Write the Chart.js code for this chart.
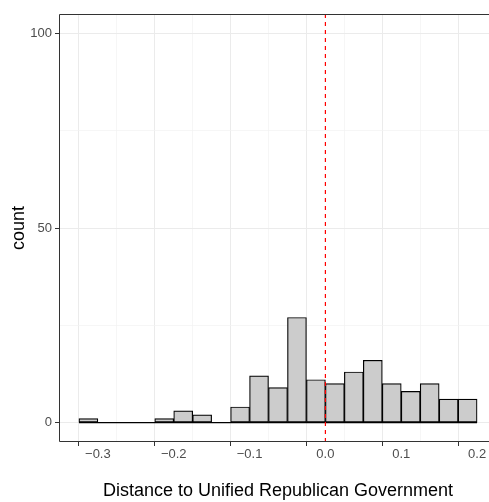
<!DOCTYPE html>
<html><head><meta charset="utf-8">
<script src="https://cdn.jsdelivr.net/npm/chart.js@4/dist/chart.umd.min.js"></script>
<style>
html,body{margin:0;padding:0;overflow:hidden;background:#fff;width:489px;height:502px}
#wrap{position:absolute;left:0;top:0;width:489px;height:502px;overflow:hidden}
canvas{display:block}
</style>
</head><body><div id="wrap"><canvas id="c" width="510" height="502"></canvas></div>
<script>
// Histogram bins (centers, width 0.025) and counts
const binWidth = 0.025;
const binCenters = [-0.3125,-0.2875,-0.2625,-0.2375,-0.2125,-0.1875,-0.1625,-0.1375,-0.1125,-0.0875,-0.0625,-0.0375,-0.0125,0.0125,0.0375,0.0625,0.0875,0.1125,0.1375,0.1625,0.1875];
const counts = [1,0,0,0,1,3,2,0,4,12,9,27,11,10,13,16,10,8,10,6,6];
const xTickLabels = [-0.3,-0.2,-0.1,0.0,0.1,0.2];
const yTickLabels = [0,50,100];
const vlineX = 0;
const xLimits = [-0.35125, 0.22625];
const yLimits = [-5, 105];

const isIn = (arr, v) => arr.some(a => Math.abs(a - v) < 1e-6);
const tickIn = (arr, c) => !!(c && c.tick && isIn(arr, c.tick.value));
const fmtX = v => (v < -1e-9 ? '\u2212' : '') + Math.abs(v).toFixed(1);

const barData = binCenters.map((x, i) => ({x: x, y: counts[i]}));
const baseData = [{x: binCenters[0] - binWidth/2, y: 0}, {x: binCenters[binCenters.length-1] + binWidth/2, y: 0}];
const vlineData = [{x: vlineX, y: yLimits[0]}, {x: vlineX, y: yLimits[1]}];

const FONT = "'Liberation Sans', Arial, Helvetica, sans-serif";

const panelBorder = {
  id: 'panelBorder',
  afterDraw(chart) {
    const {ctx, chartArea: a} = chart;
    ctx.save();
    ctx.strokeStyle = '#333333';
    ctx.lineWidth = 1;
    ctx.beginPath();
    ctx.moveTo(a.right, a.top + 0.5);
    ctx.lineTo(a.left + 0.5, a.top + 0.5);
    ctx.lineTo(a.left + 0.5, a.bottom - 0.5);
    ctx.lineTo(a.right, a.bottom - 0.5);
    ctx.stroke();
    ctx.restore();
  }
};

new Chart(document.getElementById('c'), {
  data: {
    datasets: [
      {type: 'line', data: vlineData, borderColor: '#FF0000', borderWidth: 1.2, borderDash: [4, 4], pointRadius: 0, order: 0},
      {type: 'line', data: baseData, borderColor: '#000000', borderWidth: 1.2, pointRadius: 0, order: 1},
      {type: 'bar', data: barData, backgroundColor: '#CCCCCC', borderColor: '#000000', borderWidth: 1.2, borderSkipped: false,
       barPercentage: 1, categoryPercentage: 1, order: 2}
    ]
  },
  options: {
    responsive: false,
    devicePixelRatio: 1,
    animation: false,
    layout: {padding: {left: 0, top: 14, right: 13, bottom: 0}},
    plugins: {legend: {display: false}, tooltip: {enabled: false}},
    scales: {
      x: {
        type: 'linear', min: xLimits[0], max: xLimits[1], offset: false,
        afterFit: s => { s.height = 60; },
        border: {display: false},
        grid: {
          color: c => tickIn(xTickLabels, c) ? '#EBEBEB' : '#F2F2F2',
          lineWidth: c => tickIn(xTickLabels, c) ? 1 : 0.7,
          tickColor: c => tickIn(xTickLabels, c) ? '#333333' : 'rgba(0,0,0,0)',
          tickLength: 4, tickWidth: 1
        },
        ticks: {
          stepSize: 0.05, includeBounds: false, autoSkip: false, maxRotation: 0,
          color: '#4D4D4D', font: {family: FONT, size: 13}, padding: 1,
          callback: v => isIn(xTickLabels, v) ? fmtX(v) : ''
        },
        title: {display: true, text: 'Distance to Unified Republican Government', color: '#000000',
          font: {family: FONT, size: 18}, padding: {top: 0, bottom: 0}}
      },
      y: {
        type: 'linear', min: yLimits[0], max: yLimits[1],
        afterFit: s => { s.width = 59; },
        border: {display: false},
        grid: {
          color: c => tickIn(yTickLabels, c) ? '#EBEBEB' : '#F2F2F2',
          lineWidth: c => tickIn(yTickLabels, c) ? 1 : 0.7,
          tickColor: c => tickIn(yTickLabels, c) ? '#333333' : 'rgba(0,0,0,0)',
          tickLength: 4, tickWidth: 1
        },
        ticks: {
          stepSize: 25, includeBounds: false, autoSkip: false,
          color: '#4D4D4D', font: {family: FONT, size: 13}, padding: 3,
          callback: v => isIn(yTickLabels, v) ? String(v) : ''
        },
        title: {display: true, text: 'count', color: '#000000',
          font: {family: FONT, size: 18}, padding: {top: 8, bottom: 0}}
      }
    }
  },
  plugins: [panelBorder]
});
</script>
</body></html>
